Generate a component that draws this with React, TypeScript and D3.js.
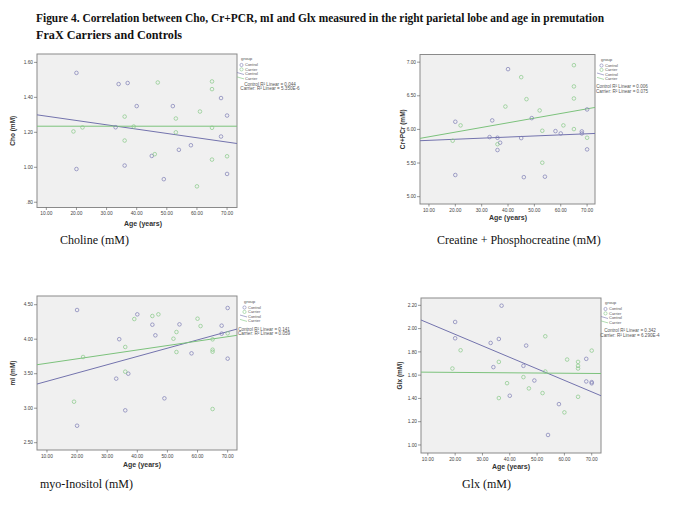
import React from "react";
import * as d3 from "d3";

// ---------- DATA ----------
const titleLines = [
  "Figure 4. Correlation  between Cho, Cr+PCR, mI and Glx measured in the right parietal lobe and age in premutation",
  "FraX Carriers  and Controls",
];

// Choline
const choControl: [number, number][] = [
  [20, 1.54], [20, 0.99], [34, 1.476], [37, 1.482], [33, 1.229], [40, 1.35], [36, 1.01],
  [45, 1.065], [49, 0.932], [52, 1.35], [54, 1.10], [58, 1.126], [68, 1.396], [68, 1.176],
  [70, 1.296], [70, 0.962],
];
const choCarrier: [number, number][] = [
  [19, 1.205], [22, 1.228], [36, 1.29], [36, 1.153], [39, 1.233], [47, 1.485], [53, 1.279],
  [53, 1.20], [61, 1.319], [65, 1.491], [65, 1.447], [65, 1.226], [65, 1.044], [70, 1.063],
  [60, 0.891], [46, 1.075],
];
const choControlFit: [number, number][] = [[6.9, 1.30], [73.3, 1.136]];
const choCarrierFit: [number, number][] = [[6.9, 1.235], [73.3, 1.235]];

// Creatine + Phosphocreatine
const crControl: [number, number][] = [
  [20, 6.114], [20, 5.322], [34, 6.134], [33, 5.886], [36, 5.876], [36, 5.693], [37, 5.802],
  [40, 6.896], [45, 5.871], [46, 5.29], [49, 6.168], [54, 5.297], [58, 5.975], [60, 5.94],
  [68, 5.97], [68, 5.94], [70, 6.297], [70, 5.703],
];
const crCarrier: [number, number][] = [
  [19, 5.832], [22, 6.06], [36, 5.78], [39, 6.34], [45, 6.777], [47, 6.45], [52, 6.282],
  [53, 5.98], [53, 5.505], [61, 6.06], [65, 6.955], [65, 6.639], [65, 6.46], [65, 6.005],
  [70, 5.876],
];
const crControlFit: [number, number][] = [[6.6, 5.832], [73.0, 5.94]];
const crCarrierFit: [number, number][] = [[6.6, 5.867], [73.0, 6.327]];

// myo-Inositol
const miControl: [number, number][] = [
  [20, 4.423], [20, 2.746], [33, 3.428], [34, 4.0], [37, 3.50], [36, 2.969], [40, 4.36],
  [45, 4.21], [46, 4.056], [49, 3.143], [54, 4.215], [58, 3.795], [68, 4.196], [68, 4.08],
  [70, 4.452], [70, 3.718],
];
const miCarrier: [number, number][] = [
  [19, 3.094], [22, 3.742], [36, 3.529], [36, 3.887], [39, 4.292], [45, 4.336], [47, 4.36],
  [52, 4.007], [53, 4.104], [53, 3.814], [60, 4.297], [61, 4.19], [65, 3.998], [65, 3.848],
  [65, 3.819], [65, 2.988], [70, 4.085],
];
const miControlFit: [number, number][] = [[6.7, 3.35], [73.1, 4.147]];
const miCarrierFit: [number, number][] = [[6.7, 3.63], [73.1, 4.056]];

// Glx
const glxControl: [number, number][] = [
  [20, 2.057], [20, 1.917], [33, 1.877], [34, 1.669], [36, 1.911], [37, 2.197], [40, 1.423],
  [45, 1.68], [46, 1.854], [49, 1.554], [54, 1.086], [58, 1.351], [68, 1.74], [68, 1.546],
  [70, 1.54], [70, 1.53],
];
const glxCarrier: [number, number][] = [
  [19, 1.657], [22, 1.814], [36, 1.714], [36, 1.403], [39, 1.531], [45, 1.583], [47, 1.486],
  [52, 1.446], [53, 1.934], [53, 1.631], [61, 1.734], [60, 1.28], [65, 1.714], [65, 1.68],
  [65, 1.657], [65, 1.414], [70, 1.811],
];
const glxControlFit: [number, number][] = [[7.5, 2.074], [73.4, 1.423]];
const glxCarrierFit: [number, number][] = [[7.5, 1.626], [73.4, 1.614]];

const ageTicks = [10, 20, 30, 40, 50, 60, 70];
const choTicks = [0.8, 1.0, 1.2, 1.4, 1.6];
const crTicks = [5.0, 5.5, 6.0, 6.5, 7.0];
const miTicks = [2.5, 3.0, 3.5, 4.0, 4.5];
const glxTicks = [1.0, 1.2, 1.4, 1.6, 1.8, 2.0, 2.2];

const groups = ["Control", "Carrier"];
const r2Labels = [
  ["Control R² Linear = 0.044", "Carrier: R² Linear = 5.350E-6"],
  ["Control R² Linear = 0.006", "Carrier: R² Linear = 0.075"],
  ["Control R² Linear = 0.141", "Carrier: R² Linear = 0.059"],
  ["Control R² Linear = 0.342", "Carrier: R² Linear = 6.290E-4"],
];
const yTitles = ["Cho (mM)", "Cr+PCr (mM)", "mI (mM)", "Glx (mM)"];
const captions = ["Choline  (mM)", "Creatine + Phosphocreatine  (mM)", "myo-Inositol  (mM)", "Glx  (mM)"];

// ---------- STYLE ----------
const CONTROL_PT = "#7d7db4";
const CARRIER_PT = "#86c886";
const CONTROL_LN = "#7373ad";
const CARRIER_LN = "#7cc27c";
const SANS = "'Liberation Sans', Arial, sans-serif";
const SERIF = "'Liberation Serif', 'Times New Roman', serif";

type PanelProps = {
  rect: { x0: number; x1: number; y0: number; y1: number };
  xDomain: [number, number];
  yDomain: [number, number];
  yTicks: number[];
  control: [number, number][];
  carrier: [number, number][];
  controlFit: [number, number][];
  carrierFit: [number, number][];
  yTitle: string;
  yTitleX: number;
  xTitleX: number;
  xTitleY: number;
  legend: { x: number; y: number; r2x: number; r2y: number };
  r2: string[];
  caption: string;
  captionX: number;
  captionY: number;
};

function Panel(p: PanelProps) {
  const { rect } = p;
  const x = d3.scaleLinear().domain(p.xDomain).range([rect.x0, rect.x1]);
  const y = d3.scaleLinear().domain(p.yDomain).range([rect.y1, rect.y0]);
  const line = d3
    .line<[number, number]>()
    .x((d) => x(d[0]))
    .y((d) => y(d[1]));
  const yMid = (rect.y0 + rect.y1) / 2;
  const lg = p.legend;
  const step = 4.4;
  return (
    <g>
      <rect
        x={rect.x0}
        y={rect.y0}
        width={rect.x1 - rect.x0}
        height={rect.y1 - rect.y0}
        fill="#f0f0f0"
        stroke="#8a8a8a"
        strokeWidth={1}
      />
      {p.yTicks.map((t) => (
        <g key={"y" + t}>
          <line x1={rect.x0 - 3} x2={rect.x0} y1={y(t)} y2={y(t)} stroke="#555" strokeWidth={0.6} />
          <text
            x={rect.x0 - 4}
            y={y(t)}
            dy="0.35em"
            textAnchor="end"
            fontSize={4.8}
            fontFamily={SANS}
            fill="#444"
          >
            {t < 1 ? d3.format(".2f")(t).replace(/^0/, "") : d3.format(".2f")(t)}
          </text>
        </g>
      ))}
      {ageTicks.map((t) => (
        <g key={"x" + t}>
          <line x1={x(t)} x2={x(t)} y1={rect.y1} y2={rect.y1 + 2.5} stroke="#555" strokeWidth={0.6} />
          <text
            x={x(t)}
            y={rect.y1 + 7.5}
            textAnchor="middle"
            fontSize={4.8}
            fontFamily={SANS}
            fill="#444"
          >
            {d3.format(".2f")(t)}
          </text>
        </g>
      ))}
      <path d={line(p.controlFit) || ""} stroke={CONTROL_LN} strokeWidth={1} fill="none" />
      <path d={line(p.carrierFit) || ""} stroke={CARRIER_LN} strokeWidth={1} fill="none" />
      {p.control.map((d, i) => (
        <circle key={"c" + i} cx={x(d[0])} cy={y(d[1])} r={1.8} fill="none" stroke={CONTROL_PT} strokeWidth={0.7} />
      ))}
      {p.carrier.map((d, i) => (
        <circle key={"k" + i} cx={x(d[0])} cy={y(d[1])} r={1.8} fill="none" stroke={CARRIER_PT} strokeWidth={0.7} />
      ))}
      <text
        transform={`translate(${p.yTitleX},${yMid}) rotate(-90)`}
        textAnchor="middle"
        fontSize={6.5}
        fontWeight="bold"
        fontFamily={SANS}
        fill="#333"
      >
        {p.yTitle}
      </text>
      <text
        x={p.xTitleX}
        y={p.xTitleY}
        textAnchor="middle"
        fontSize={7}
        fontWeight="bold"
        fontFamily={SANS}
        fill="#333"
      >
        Age (years)
      </text>
      <g fontFamily={SANS} fill="#555">
        <text x={lg.x + 1} y={lg.y} fontSize={4.4}>group</text>
        {groups.map((g, i) => (
          <g key={"lp" + g}>
            <circle
              cx={lg.x + 1.5}
              cy={lg.y + 5 + i * step}
              r={1.6}
              fill="none"
              stroke={i === 0 ? CONTROL_PT : CARRIER_PT}
              strokeWidth={0.6}
            />
            <text x={lg.x + 5} y={lg.y + 6.4 + i * step} fontSize={4}>{g}</text>
          </g>
        ))}
        {groups.map((g, i) => (
          <g key={"ll" + g}>
            <line
              x1={lg.x - 3}
              x2={lg.x + 4}
              y1={lg.y + 12.5 + i * step}
              y2={lg.y + 14.5 + i * step}
              stroke={i === 0 ? CONTROL_LN : CARRIER_LN}
              strokeWidth={0.6}
            />
            <text x={lg.x + 5} y={lg.y + 15.2 + i * step} fontSize={4}>{g}</text>
          </g>
        ))}
        {p.r2.map((s, i) => (
          <text key={"r2" + i} x={lg.r2x} y={lg.r2y + i * 4.8} textAnchor="middle" fontSize={4.6}>
            {s}
          </text>
        ))}
      </g>
      <text x={p.captionX} y={p.captionY} fontSize={12} fontFamily={SERIF} fill="#111">
        {p.caption}
      </text>
    </g>
  );
}

export default function App() {
  return (
    <svg
      width={685}
      height={513}
      viewBox="0 0 685 513"
      style={{ position: "absolute", left: 0, top: 0, background: "#fff" }}
    >
      <rect x={0} y={0} width={685} height={513} fill="#fff" />
      {titleLines.map((t, i) => (
        <text
          key={i}
          x={36}
          y={22 + i * 16.5}
          fontFamily={SERIF}
          fontWeight="bold"
          fontSize={12}
          fill="#111"
          textLength={i === 0 ? 568 : 146}
          lengthAdjust="spacingAndGlyphs"
        >
          {t}
        </text>
      ))}
      <Panel
        rect={{ x0: 37, x1: 237, y0: 54, y1: 207.5 }}
        xDomain={[6.9, 73.3]}
        yDomain={[0.77, 1.648]}
        yTicks={choTicks}
        control={choControl}
        carrier={choCarrier}
        controlFit={choControlFit}
        carrierFit={choCarrierFit}
        yTitle={yTitles[0]}
        yTitleX={15}
        xTitleX={143}
        xTitleY={226}
        legend={{ x: 240, y: 60, r2x: 270, r2y: 85.5 }}
        r2={r2Labels[0]}
        caption={captions[0]}
        captionX={60}
        captionY={244}
      />
      <Panel
        rect={{ x0: 420, x1: 595, y0: 54.5, y1: 204 }}
        xDomain={[6.6, 73.0]}
        yDomain={[4.891, 7.114]}
        yTicks={crTicks}
        control={crControl}
        carrier={crCarrier}
        controlFit={crControlFit}
        carrierFit={crCarrierFit}
        yTitle={yTitles[1]}
        yTitleX={405}
        xTitleX={508}
        xTitleY={219.5}
        legend={{ x: 600, y: 60.5, r2x: 622, r2y: 88 }}
        r2={r2Labels[1]}
        caption={captions[1]}
        captionX={437}
        captionY={244}
      />
      <Panel
        rect={{ x0: 37, x1: 237, y0: 296, y1: 450 }}
        xDomain={[6.7, 73.1]}
        yDomain={[2.394, 4.626]}
        yTicks={miTicks}
        control={miControl}
        carrier={miCarrier}
        controlFit={miControlFit}
        carrierFit={miCarrierFit}
        yTitle={yTitles[2]}
        yTitleX={15}
        xTitleX={142}
        xTitleY={466.5}
        legend={{ x: 243, y: 302.5, r2x: 264, r2y: 330.5 }}
        r2={r2Labels[2]}
        caption={captions[2]}
        captionX={40}
        captionY={488}
      />
      <Panel
        rect={{ x0: 421, x1: 601, y0: 298, y1: 453 }}
        xDomain={[7.5, 73.4]}
        yDomain={[0.931, 2.263]}
        yTicks={glxTicks}
        control={glxControl}
        carrier={glxCarrier}
        controlFit={glxControlFit}
        carrierFit={glxCarrierFit}
        yTitle={yTitles[3]}
        yTitleX={402}
        xTitleX={511}
        xTitleY={468.5}
        legend={{ x: 604, y: 304, r2x: 630, r2y: 332 }}
        r2={r2Labels[3]}
        caption={captions[3]}
        captionX={462}
        captionY={488}
      />
    </svg>
  );
}
